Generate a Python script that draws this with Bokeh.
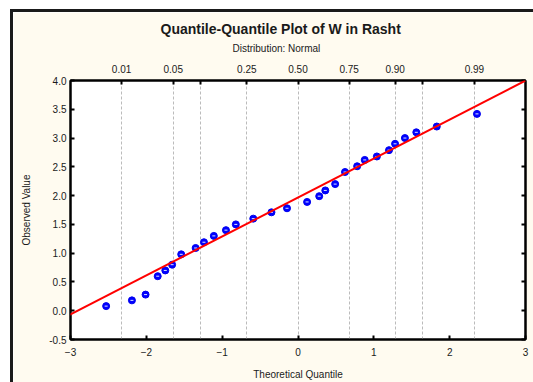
from statistics import NormalDist
from bokeh.plotting import figure
from bokeh.models import (LinearAxis, FixedTicker, Slope, ColumnDataSource, Range1d, Grid, Title)
from bokeh.embed import file_html
from bokeh.resources import INLINE

# ---- data ----
theoretical = [-2.53, -2.19, -2.01, -1.85, -1.75, -1.66, -1.54, -1.35, -1.24, -1.11,
               -0.95, -0.82, -0.59, -0.35, -0.145, 0.12, 0.28, 0.36, 0.49, 0.62,
               0.78, 0.88, 1.04, 1.20, 1.28, 1.41, 1.56, 1.83, 2.36]
observed = [0.08, 0.18, 0.28, 0.60, 0.70, 0.80, 0.98, 1.09, 1.19, 1.30,
            1.40, 1.50, 1.60, 1.71, 1.78, 1.89, 1.99, 2.09, 2.20, 2.41,
            2.51, 2.62, 2.68, 2.79, 2.90, 3.00, 3.10, 3.20, 3.42]
fit_intercept = 1.968
fit_slope = 0.677
prob_ticks = [0.01, 0.05, 0.10, 0.25, 0.50, 0.75, 0.90, 0.95, 0.99]
prob_labels = ["0.01", "0.05", "", "0.25", "0.50", "0.75", "0.90", "", "0.99"]
x_ticks = [-3, -2, -1, 0, 1, 2, 3]
y_ticks = [-0.5, 0.0, 0.5, 1.0, 1.5, 2.0, 2.5, 3.0, 3.5, 4.0]
y_labels = ["-0.5", "0.0", "0.5", "1.0", "1.5", "2.0", "2.5", "3.0", "3.5", "4.0"]

FONT = "Liberation Sans"
TXT = "#1a1a1a"
CREAM = "#FFFBF0"

nd = NormalDist()
prob_z = [nd.inv_cdf(pv) for pv in prob_ticks]

p = figure(width=520, height=370, output_backend="svg", toolbar_location=None,
           x_range=Range1d(-3, 3), y_range=Range1d(-0.5, 4.0),
           min_border_left=57, min_border_top=68, min_border_right=8, min_border_bottom=42,
           x_axis_location=None, y_axis_location=None,
           title="Quantile-Quantile Plot of W in Rasht")
p.margin = (12, 0, 0, 13)
p.styles = {"box-shadow": "0px 0px 0px 3px #1a1a1a", "vertical-align": "top"}
p.background_fill_color = "white"
p.border_fill_color = CREAM
p.outline_line_color = "black"
p.outline_line_width = 2

def style_axis(ax, size="10px"):
    ax.axis_line_color = "black"
    ax.axis_line_width = 2
    ax.major_tick_in = 4
    ax.major_tick_out = 0
    ax.major_tick_line_color = "black"
    ax.major_tick_line_width = 2
    ax.minor_tick_line_color = None
    ax.major_label_text_font = FONT
    ax.major_label_text_font_size = size
    ax.major_label_text_color = TXT
    ax.axis_label_text_font = FONT
    ax.axis_label_text_font_size = "10px"
    ax.axis_label_text_font_style = "normal"
    ax.axis_label_text_color = TXT

bottom = LinearAxis(ticker=FixedTicker(ticks=x_ticks), axis_label="Theoretical Quantile")
style_axis(bottom)
bottom.major_label_standoff = 8
bottom.axis_label_standoff = 10
p.add_layout(bottom, "below")

left = LinearAxis(ticker=FixedTicker(ticks=y_ticks), axis_label="Observed Value")
style_axis(left)
left.major_label_standoff = 4
left.axis_label_standoff = 14
left.major_label_overrides = {float(t): l for t, l in zip(y_ticks, y_labels)}
p.add_layout(left, "left")

top = LinearAxis(ticker=FixedTicker(ticks=prob_z))
style_axis(top)
top.major_label_standoff = 8
top.major_label_overrides = {z: l for z, l in zip(prob_z, prob_labels)}
p.add_layout(top, "above")

right = LinearAxis(ticker=FixedTicker(ticks=y_ticks))
style_axis(right)
right.major_label_standoff = 0
right.major_label_overrides = {float(t): "" for t in y_ticks}
p.add_layout(right, "right")

subtitle = Title(text="Distribution: Normal", align="left", offset=162,
                 vertical_align="top", standoff=12,
                 text_font=FONT, text_font_size="10px", text_font_style="normal",
                 text_color=TXT)
p.add_layout(subtitle, "above")

p.title.align = "left"
p.title.offset = 90
p.title.vertical_align = "bottom"
p.title.standoff = 0
p.title.text_font = FONT
p.title.text_font_size = "14px"
p.title.text_font_style = "bold"
p.title.text_color = TXT

p.xgrid.visible = False
p.ygrid.visible = False
vgrid = Grid(dimension=0, ticker=FixedTicker(ticks=prob_z),
             grid_line_color="#BBBBBB", grid_line_dash="3 2", grid_line_width=1)
p.add_layout(vgrid)

p.add_layout(Slope(gradient=fit_slope, y_intercept=fit_intercept,
                   line_color="#FF0000", line_width=2))

src = ColumnDataSource(dict(x=theoretical, y=observed))
p.scatter("x", "y", source=src, marker="circle", size=7,
          fill_color="#0000FF", line_color="#0000EE", line_width=1)
p.scatter("x", "y", source=src, marker="dash", size=3,
          line_color="#DDE6FF", line_width=1)

open("out.html", "w").write(file_html(p, INLINE))
